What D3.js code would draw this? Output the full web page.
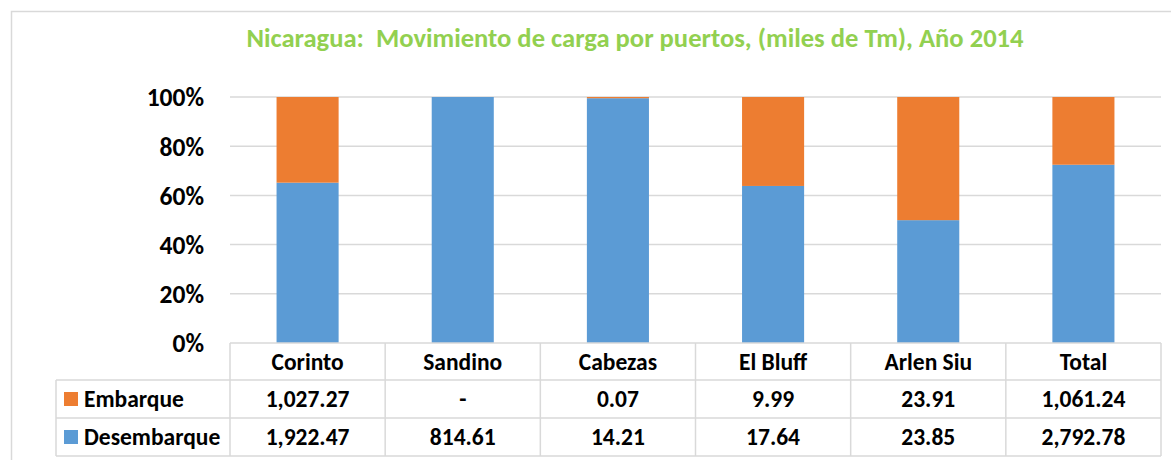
<!DOCTYPE html>
<html><head><meta charset="utf-8">
<script src="https://cdn.jsdelivr.net/npm/d3@7"></script>
<style>
html,body{margin:0;padding:0;background:#fff;}
svg{display:block;font-family:Carlito,Lato,"Open Sans",sans-serif;}
text{white-space:pre;}
</style></head><body>
<svg id="c" width="1171" height="460"></svg>
<script>
const categories = ["Corinto","Sandino","Cabezas","El Bluff","Arlen Siu","Total"];
const embarque = [1027.27, 0, 0.07, 9.99, 23.91, 1061.24];
const desembarque = [1922.47, 814.61, 14.21, 17.64, 23.85, 2792.78];
const embarqueLabels = ["1,027.27","-","0.07","9.99","23.91","1,061.24"];
const desembarqueLabels = ["1,922.47","814.61","14.21","17.64","23.85","2,792.78"];
const yTicks = [0,0.2,0.4,0.6,0.8,1];
const seriesNames = ["Desembarque","Embarque"];
const title = "Nicaragua:  Movimiento de carga por puertos, (miles de Tm), Año 2014";

const colors = {Embarque:"#ED7D31", Desembarque:"#5B9BD5"};
const svg = d3.select("#c");
const L = 230, R = 1161, T = 97, B = 343;
const gridColor = "#d9d9d9";
const fontFam = "Carlito,Lato,'Open Sans',sans-serif";

// outer chart border
svg.append("rect").attr("x",11.5).attr("y",11.5).attr("width",1180).attr("height",470)
  .attr("fill","none").attr("stroke",gridColor).attr("stroke-width",1.5);

svg.append("text").attr("x",635).attr("y",47).attr("text-anchor","middle")
  .attr("xml:space","preserve")
  .attr("fill","#92D050").attr("font-weight","bold").attr("font-size",26.6).text(title);

const x = d3.scaleBand().domain(categories).range([L,R]).paddingInner(0.6).paddingOuter(0.3);
const y = d3.scaleLinear().domain([0,1]).range([B,T]);

// gridlines
svg.append("g").selectAll("line").data(yTicks.filter(d=>d>0)).join("line")
  .attr("x1",L).attr("x2",R).attr("y1",d=>y(d)).attr("y2",d=>y(d))
  .attr("stroke",gridColor).attr("stroke-width",1.5);

// y axis labels
const yAxis = d3.axisLeft(y).tickValues(yTicks).tickFormat(d3.format(".0%")).tickSize(0).tickPadding(0);
const ya = svg.append("g").attr("transform",`translate(204,0)`).call(yAxis);
ya.select(".domain").remove();
ya.selectAll("text").attr("font-size",25.5).attr("font-weight","bold").attr("fill","#000")
  .attr("font-family",fontFam).attr("dy","0.35em");

// stacked bars
const rows = categories.map((c,i)=>({cat:c, Embarque:embarque[i], Desembarque:desembarque[i]}));
const stack = d3.stack().keys(seriesNames).offset(d3.stackOffsetExpand);
const series = stack(rows);
svg.append("g").selectAll("g").data(series).join("g")
  .attr("fill",d=>colors[d.key])
  .selectAll("rect").data(d=>d).join("rect")
  .attr("x",d=>x(d.data.cat)).attr("width",x.bandwidth())
  .attr("y",d=>y(d[1])).attr("height",d=>y(d[0])-y(d[1]));

// data table
const colStep = (R-L)/categories.length;
const rowY = [343, 380, 418, 456];
const tg = svg.append("g").attr("stroke",gridColor).attr("stroke-width",1.5);
tg.append("line").attr("x1",L).attr("x2",R).attr("y1",rowY[0]).attr("y2",rowY[0]);
[1,2,3].forEach(k=>tg.append("line").attr("x1",56).attr("x2",R).attr("y1",rowY[k]).attr("y2",rowY[k]));
d3.range(categories.length+1).forEach(k=>{
  tg.append("line").attr("x1",L+k*colStep).attr("x2",L+k*colStep).attr("y1",rowY[0]).attr("y2",rowY[3]);
});
tg.append("line").attr("x1",56).attr("x2",56).attr("y1",rowY[1]).attr("y2",rowY[3]);

const fs = 23.5;
const txt = svg.append("g").attr("font-weight","bold").attr("font-size",fs).attr("fill","#000");
txt.selectAll("text.h").data(categories).join("text").attr("class","h")
  .attr("x",d=>x(d)+x.bandwidth()/2).attr("y",(rowY[0]+rowY[1])/2).attr("dy","0.35em")
  .attr("text-anchor","middle").text(d=>d);
txt.selectAll("text.e").data(embarqueLabels).join("text").attr("class","e")
  .attr("x",(d,i)=>x(categories[i])+x.bandwidth()/2).attr("y",(rowY[1]+rowY[2])/2).attr("dy","0.35em")
  .attr("text-anchor","middle").text(d=>d);
txt.selectAll("text.d").data(desembarqueLabels).join("text").attr("class","d")
  .attr("x",(d,i)=>x(categories[i])+x.bandwidth()/2).attr("y",(rowY[2]+rowY[3])/2).attr("dy","0.35em")
  .attr("text-anchor","middle").text(d=>d);

// legend keys in table
const legendRows = [["Embarque",rowY[1]],["Desembarque",rowY[2]]];
legendRows.forEach(([name,top])=>{
  const cy = top + (rowY[1]-rowY[0]+1)/2;
  svg.append("rect").attr("x",64).attr("y",cy-7).attr("width",14).attr("height",14).attr("fill",colors[name]);
  svg.append("text").attr("x",84).attr("y",cy).attr("dy","0.35em").attr("font-weight","bold")
    .attr("font-size",fs).attr("fill","#000").text(name);
});
</script></body></html>
